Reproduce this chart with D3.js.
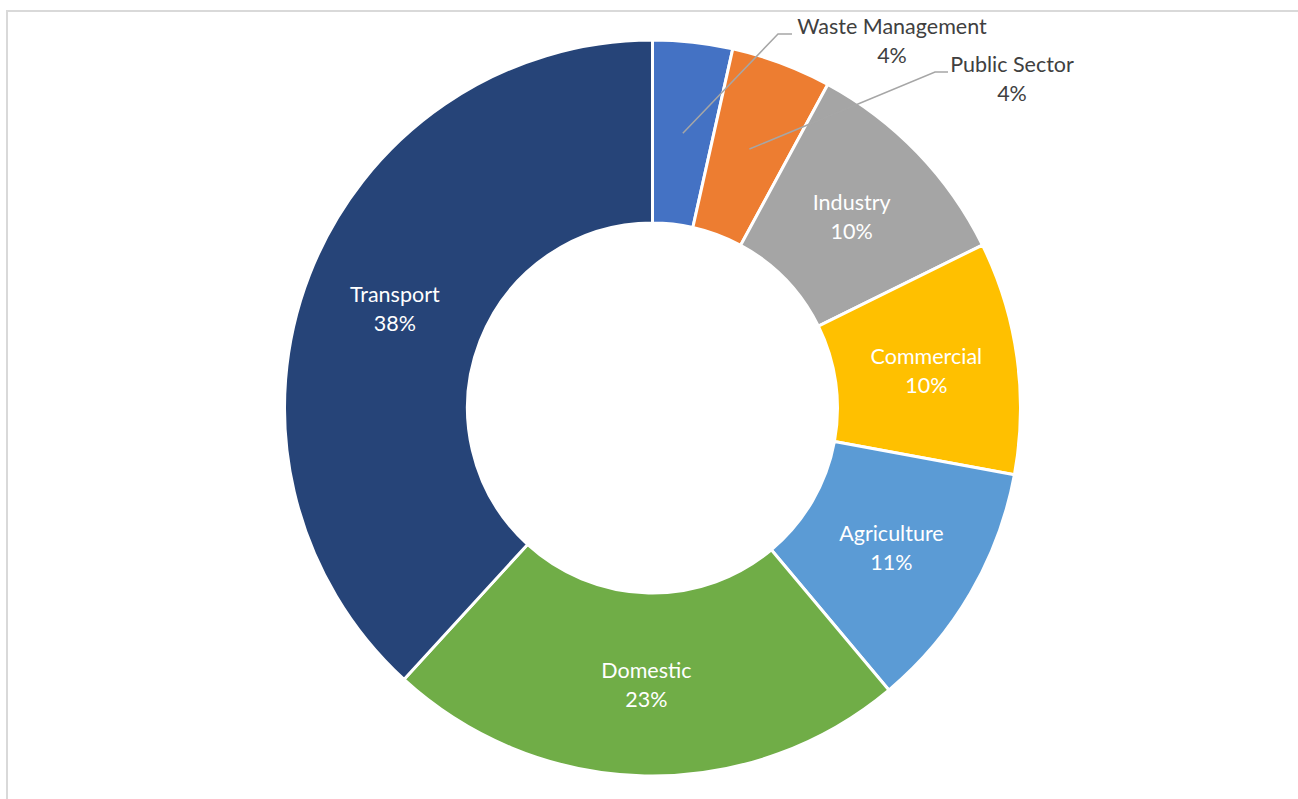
<!DOCTYPE html>
<html>
<head>
<meta charset="utf-8">
<script src="https://cdn.jsdelivr.net/npm/d3@7"></script>
<style>
  html, body { margin: 0; padding: 0; background: #fff; }
  svg { display: block; }
  text { font-family: Lato, "Open Sans", sans-serif; }
</style>
</head>
<body>
<svg id="chart" width="1298" height="799"></svg>
<script>
const categories = ["Waste Management", "Public Sector", "Industry", "Commercial", "Agriculture", "Domestic", "Transport"];
const values = [3.5, 4.4, 9.8, 10.2, 11.0, 22.9, 38.2];
const labels = ["4%", "4%", "10%", "10%", "11%", "23%", "38%"];
const colors = ["#4472C4", "#ED7D31", "#A5A5A5", "#FFC000", "#5B9BD5", "#70AD47", "#264478"];
const outsideLabels = ["Waste Management", "Public Sector"];

const svg = d3.select("#chart");
const W = 1298, H = 799;
const FS = 21.5;

// chart border
svg.append("rect")
  .attr("x", 7).attr("y", 11)
  .attr("width", W + 10).attr("height", H + 10)
  .attr("fill", "#fff")
  .attr("stroke", "#D9D9D9").attr("stroke-width", 2);

const cx = 652.5, cy = 408;
const rOuter = 368, rInner = 185;

const pie = d3.pie().value(d => d.value).sort(null);
const data = categories.map((c, i) => ({ name: c, value: values[i], label: labels[i], color: colors[i] }));
const arcs = pie(data);
const arc = d3.arc().innerRadius(rInner).outerRadius(rOuter);

const g = svg.append("g").attr("transform", `translate(${cx},${cy})`);

g.selectAll("path.slice")
  .data(arcs)
  .enter().append("path")
  .attr("class", "slice")
  .attr("d", arc)
  .attr("fill", d => d.data.color)
  .attr("stroke", "#fff")
  .attr("stroke-width", 3)
  .attr("stroke-linejoin", "miter");

// inside labels
const inside = arcs.filter(d => !outsideLabels.includes(d.data.name));
const lg = g.selectAll("g.lbl").data(inside).enter().append("g")
  .attr("class", "lbl")
  .attr("transform", d => { const c = arc.centroid(d); return `translate(${c[0]},${c[1]})`; });
lg.append("text")
  .attr("text-anchor", "middle")
  .attr("y", -6)
  .attr("font-size", FS)
  .attr("fill", "#fff")
  .text(d => d.data.name);
lg.append("text")
  .attr("text-anchor", "middle")
  .attr("y", 23)
  .attr("font-size", FS)
  .attr("fill", "#fff")
  .text(d => d.data.label);

// outside labels with leader lines (label anchor positions in page coords)
const outsidePos = {
  "Waste Management": { elbow: [778, 34], end: [792, 34], tx: 892, ty: 34 },
  "Public Sector": { elbow: [935, 72], end: [948, 72], tx: 1012, ty: 72 }
};
arcs.filter(d => outsideLabels.includes(d.data.name)).forEach(d => {
  const c = arc.centroid(d);
  const p = outsidePos[d.data.name];
  const pts = [[c[0] + cx, c[1] + cy], p.elbow, p.end];
  svg.append("path")
    .attr("d", d3.line()(pts))
    .attr("fill", "none")
    .attr("stroke", "#A6A6A6")
    .attr("stroke-width", 1.5);
  svg.append("text")
    .attr("x", p.tx).attr("y", p.ty)
    .attr("text-anchor", "middle")
    .attr("font-size", FS)
    .attr("fill", "#404040")
    .text(d.data.name);
  svg.append("text")
    .attr("x", p.tx).attr("y", p.ty + 29)
    .attr("text-anchor", "middle")
    .attr("font-size", FS)
    .attr("fill", "#404040")
    .text(d.data.label);
});
</script>
</body>
</html>
